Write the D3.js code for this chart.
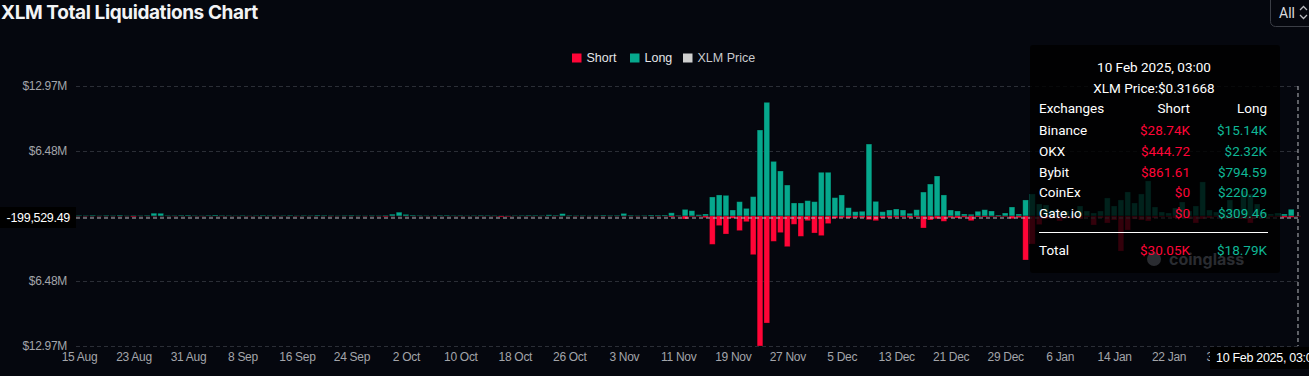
<!DOCTYPE html>
<html>
<head>
<meta charset="utf-8">
<script src="https://cdn.jsdelivr.net/npm/d3@7"></script>
<style>
  body { margin: 0; background: #05070e; }
  svg { display: block; }
  .lbl { font-family: "Liberation Sans Narrow", "Liberation Sans", sans-serif; }
  .tip { font-family: Roboto, "Noto Sans", sans-serif; }
</style>
</head>
<body>
<div id="chart"></div>
<script>
// daily liquidations, in $M, first bar = 15 Aug 2024
const startDay = "2024-08-15";

const longM = [
  0.06, 0.05, 0.08, 0.04, 0.07, 0.05, 0.09, 0.04, 0.06, 0.05,
  0.07, 0.28, 0.27, 0.06, 0.05, 0.08, 0.09, 0.05, 0.04, 0.07,
  0.10, 0.06, 0.05, 0.04, 0.06, 0.03, 0.05, 0.08, 0.06, 0.04,
  0.05, 0.07, 0.04, 0.06, 0.05, 0.09, 0.07, 0.05, 0.04, 0.06,
  0.08, 0.05, 0.04, 0.06, 0.05, 0.07, 0.18, 0.38, 0.16, 0.09,
  0.06, 0.05, 0.04, 0.07, 0.08, 0.05, 0.06, 0.04, 0.05, 0.07,
  0.06, 0.05, 0.04, 0.03, 0.05, 0.06, 0.08, 0.07, 0.05, 0.12,
  0.08, 0.24, 0.07, 0.05, 0.06, 0.04, 0.05, 0.09, 0.06, 0.07,
  0.26, 0.08, 0.05, 0.06, 0.10, 0.09, 0.10, 0.32, 0.07, 0.66,
  0.53, 0.13, 0.20, 1.90, 2.10, 2.06, 0.60, 1.43, 0.76, 1.93,
  8.58, 11.34, 5.45, 4.49, 3.09, 1.30, 1.30, 1.53, 1.43, 4.36,
  4.36, 1.83, 2.10, 0.83, 0.43, 0.47, 7.18, 1.46, 0.43, 0.60,
  0.70, 0.60, 0.27, 0.63, 2.39, 3.19, 3.99, 2.10, 0.60, 0.50,
  0.20, 0.17, 0.47, 0.63, 0.50, 0.10, 0.30, 0.90, 0.20, 1.60,
  2.20, 1.20, 1.10, 0.60, 0.40, 0.50, 0.30, 1.00, 0.50, 0.30,
  0.50, 1.80, 1.00, 1.60, 2.40, 1.30, 2.20, 3.50, 0.90, 0.40,
  0.30, 0.80, 1.40, 0.50, 1.00, 3.40, 0.60, 0.40, 0.50, 1.60,
  0.70, 2.50, 2.20, 1.20, 0.40, 0.20, 0.30, 0.20, 0.67, 0.019
];

const shortM = [
  0.01, 0.02, 0.01, 0.02, 0.01, 0.01, 0.02, 0.01, 0.08, 0.01,
  0.01, 0.02, 0.01, 0.01, 0.02, 0.01, 0.01, 0.01, 0.02, 0.01,
  0.01, 0.02, 0.01, 0.01, 0.01, 0.02, 0.01, 0.01, 0.01, 0.02,
  0.01, 0.01, 0.02, 0.01, 0.01, 0.01, 0.01, 0.02, 0.01, 0.01,
  0.01, 0.01, 0.02, 0.01, 0.02, 0.07, 0.02, 0.01, 0.02, 0.01,
  0.01, 0.01, 0.02, 0.01, 0.01, 0.01, 0.02, 0.01, 0.01, 0.02,
  0.01, 0.02, 0.09, 0.06, 0.01, 0.01, 0.02, 0.01, 0.01, 0.01,
  0.02, 0.01, 0.01, 0.02, 0.01, 0.01, 0.01, 0.02, 0.01, 0.01,
  0.02, 0.01, 0.02, 0.01, 0.01, 0.03, 0.02, 0.10, 0.03, 0.30,
  0.07, 0.05, 0.17, 2.83, 0.96, 1.80, 0.23, 1.46, 0.57, 3.86,
  12.97, 10.68, 2.53, 1.66, 3.06, 0.83, 2.03, 0.47, 1.70, 1.96,
  0.76, 0.23, 0.17, 0.20, 0.17, 0.17, 0.37, 0.47, 0.20, 0.17,
  0.13, 0.10, 0.17, 0.10, 1.20, 0.40, 0.27, 0.53, 0.17, 0.20,
  0.13, 0.47, 0.10, 0.10, 0.07, 0.07, 0.07, 0.27, 0.17, 4.39,
  2.80, 0.86, 0.30, 0.20, 0.50, 0.20, 0.15, 0.30, 0.10, 0.90,
  0.20, 0.70, 0.40, 3.50, 1.40, 0.30, 0.40, 0.50, 0.20, 0.10,
  0.10, 0.20, 0.20, 0.30, 0.70, 0.30, 0.20, 0.10, 0.15, 0.30,
  0.20, 0.30, 0.70, 0.20, 0.10, 0.10, 0.10, 0.15, 0.13, 0.030
];

const yTicks = [-12.97, -6.48, 0, 6.48, 12.97];
const legendItems = ["Short", "Long", "XLM Price"];

// tooltip content for the hovered bar (10 Feb)
const tipTitle = "10 Feb 2025, 03:00";
const tipPrice = "XLM Price:$0.31668";
const tipExchanges = ["Binance", "OKX", "Bybit", "CoinEx", "Gate.io"];
const tipShort = ["$28.74K", "$444.72", "$861.61", "$0", "$0"];
const tipLong = ["$15.14K", "$2.32K", "$794.59", "$220.29", "$309.46"];
const tipTotal = ["$30.05K", "$18.79K"];
const pointerValue = "-199,529.49";

const RED = "#ff0537", GREEN = "#06a88d", BG = "#05070e";

const W = 1309, H = 376;

const parse = d3.utcParse("%Y-%m-%d");
const day0 = parse(startDay);
const data = longM.map((v, i) => ({
  date: d3.utcDay.offset(day0, i),
  long: v,
  short: shortM[i]
}));

const svg = d3.select('#chart')
  .append('svg')
    .attr('width', W)
    .attr('height', H);

svg.append('rect').attr('width', W).attr('height', H).attr('fill', BG);

// x scaling: half a day of padding on each side
const x = d3.scaleUtc()
  .domain([d3.utcHour.offset(data[0].date, -12), d3.utcHour.offset(data[data.length - 1].date, 12)])
  .range([75.6, 1301.4]);
const dayW = x(d3.utcDay.offset(day0, 1)) - x(day0);
const barW = dayW * 0.84;

const y = d3.scaleLinear()
  .domain([-12.97, 12.97])
  .range([346, 86]);

// title
svg.append('text')
  .attr('x', 1).attr('y', 18.5)
  .attr('font-family', 'Inter, Roboto, sans-serif')
  .attr('font-weight', 700)
  .attr('font-size', 19)
  .attr('letter-spacing', -0.4)
  .attr('fill', '#f2f3f5')
  .text('XLM Total Liquidations Chart');

// "All" selector
svg.append('rect')
  .attr('x', 1270.5).attr('y', -6).attr('width', 50).attr('height', 32.5).attr('rx', 5)
  .attr('fill', 'none').attr('stroke', '#3b3e46');
svg.append('text')
  .attr('x', 1279).attr('y', 18).attr('font-family', 'Roboto, sans-serif')
  .attr('font-size', 14).attr('fill', '#d9dadd').text('All');
svg.append('path')
  .attr('d', 'M1300,10 l3.5,-3.5 l3.5,3.5 M1300,15 l3.5,3.5 l3.5,-3.5')
  .attr('fill', 'none').attr('stroke', '#b8b9bd').attr('stroke-width', 1.3);

// legend
const legendX = [572, 630, 683];
const legendColor = [RED, GREEN, '#cfcfcf'];
const legend = svg.append('g');
legendItems.forEach((name, i) => {
  legend.append('rect')
    .attr('x', legendX[i]).attr('y', 53.5).attr('width', 9.5).attr('height', 9)
    .attr('fill', legendColor[i]);
  legend.append('text')
    .attr('class', 'lbl')
    .attr('x', legendX[i] + 14.5).attr('y', 58).attr('dy', '0.35em')
    .attr('font-size', 12.5)
    .attr('fill', i === 2 ? '#c9cacd' : '#e4e5e8')
    .text(name);
});

// grid + y labels
const grid = svg.append('g');
grid.selectAll('line')
  .data(yTicks)
  .join('line')
    .attr('x1', 76).attr('x2', 1301)
    .attr('y1', d => Math.round(y(d)) + 0.5).attr('y2', d => Math.round(y(d)) + 0.5)
    .attr('stroke', '#2b2e36')
    .attr('stroke-dasharray', '4,3');
grid.selectAll('text')
  .data(yTicks.filter(d => d !== 0))
  .join('text')
    .attr('class', 'lbl')
    .attr('x', 67).attr('y', d => y(d)).attr('dy', '0.35em')
    .attr('text-anchor', 'end')
    .attr('font-size', 12)
    .attr('letter-spacing', -0.3)
    .attr('fill', '#a3a5aa')
    .text(d => '$' + Math.abs(d).toFixed(2) + 'M');

// x axis labels, every 8 days
const xTicks = d3.utcDay.range(day0, data[data.length - 1].date, 8);
const xAxis = svg.append('g')
  .attr('transform', 'translate(0,350)')
  .call(d3.axisBottom(x).tickValues(xTicks).tickFormat(d3.utcFormat('%-d %b')).tickSize(0))
  .call(g => g.select('.domain').remove());
xAxis.selectAll('text')
  .attr('class', 'lbl')
  .attr('font-size', 12)
  .attr('letter-spacing', -0.3)
  .attr('fill', '#a3a5aa')
  .attr('dy', '0.71em')
  .attr('y', 2);

// bars
const bars = svg.append('g');
bars.selectAll('rect.long')
  .data(data)
  .join('rect')
    .attr('class', 'long')
    .attr('x', d => x(d.date) - barW / 2)
    .attr('y', d => y(d.long))
    .attr('width', barW)
    .attr('height', d => y(0) - y(d.long))
    .attr('fill', GREEN)
    .attr('stroke', 'rgba(0,0,0,0.35)')
    .attr('stroke-width', 0.8);
bars.selectAll('rect.short')
  .data(data)
  .join('rect')
    .attr('class', 'short')
    .attr('x', d => x(d.date) - barW / 2)
    .attr('y', y(0))
    .attr('width', barW)
    .attr('height', d => y(-d.short) - y(0))
    .attr('fill', RED)
    .attr('stroke', 'rgba(0,0,0,0.35)')
    .attr('stroke-width', 0.8);

// axis pointer (crosshair) on the last bar
const px = x(data[data.length - 1].date);
const py = y(-0.1995);
svg.append('line')
  .attr('x1', 76).attr('x2', 1301).attr('y1', py).attr('y2', py)
  .attr('stroke', '#b9bbc0').attr('stroke-dasharray', '4,3');
svg.append('line')
  .attr('x1', px).attr('x2', px).attr('y1', 86).attr('y2', 346)
  .attr('stroke', '#b9bbc0').attr('stroke-dasharray', '4,3');
svg.append('rect')
  .attr('x', 0).attr('y', 207).attr('width', 76).attr('height', 21)
  .attr('fill', '#000');
svg.append('text')
  .attr('class', 'lbl')
  .attr('x', 70).attr('y', 217.5).attr('dy', '0.35em')
  .attr('text-anchor', 'end')
  .attr('font-size', 12.5)
  .attr('letter-spacing', -0.3)
  .attr('fill', '#fff')
  .text(pointerValue);
svg.append('rect')
  .attr('x', 1210).attr('y', 347).attr('width', 99).attr('height', 22)
  .attr('fill', '#000');
svg.append('text')
  .attr('class', 'lbl')
  .attr('x', 1216).attr('y', 358).attr('dy', '0.35em')
  .attr('font-size', 12.5)
  .attr('letter-spacing', -0.3)
  .attr('fill', '#fff')
  .text(tipTitle);

// tooltip
const tip = svg.append('g').attr('class', 'tip');
tip.append('rect')
  .attr('x', 1030).attr('y', 45).attr('width', 250).attr('height', 228).attr('rx', 3)
  .attr('fill', 'rgba(0,0,0,0.8)');
// watermark
tip.append('text')
  .attr('x', 1169).attr('y', 265)
  .attr('font-family', 'Inter, Roboto, sans-serif')
  .attr('font-weight', 700).attr('font-size', 16)
  .attr('fill', '#2a2c31')
  .text('coinglass');
tip.append('circle').attr('cx', 1154).attr('cy', 259).attr('r', 7).attr('fill', '#2a2c31');

const fs = 13.5;
tip.append('text').attr('x', 1154).attr('y', 67).attr('dy', '0.35em')
  .attr('text-anchor', 'middle').attr('font-size', fs).attr('fill', '#fff').text(tipTitle);
tip.append('text').attr('x', 1154).attr('y', 88).attr('dy', '0.35em')
  .attr('text-anchor', 'middle').attr('font-size', fs).attr('fill', '#fff').text(tipPrice);

const rowY = [130, 151, 172, 192.5, 213.5];
const header = tip.append('g').attr('font-size', fs).attr('fill', '#fff');
header.append('text').attr('x', 1039).attr('y', 108.5).attr('dy', '0.35em').text('Exchanges');
header.append('text').attr('x', 1190).attr('y', 108.5).attr('dy', '0.35em').attr('text-anchor', 'end').text('Short');
header.append('text').attr('x', 1267).attr('y', 108.5).attr('dy', '0.35em').attr('text-anchor', 'end').text('Long');

tipExchanges.forEach((name, i) => {
  tip.append('text').attr('x', 1039).attr('y', rowY[i]).attr('dy', '0.35em')
    .attr('font-size', fs).attr('fill', '#fff').text(name);
  tip.append('text').attr('x', 1190).attr('y', rowY[i]).attr('dy', '0.35em')
    .attr('text-anchor', 'end').attr('font-size', fs).attr('fill', RED).text(tipShort[i]);
  tip.append('text').attr('x', 1267).attr('y', rowY[i]).attr('dy', '0.35em')
    .attr('text-anchor', 'end').attr('font-size', fs).attr('fill', '#0fb796').text(tipLong[i]);
});
tip.append('line').attr('x1', 1039).attr('x2', 1268).attr('y1', 232.5).attr('y2', 232.5)
  .attr('stroke', '#fff').attr('stroke-width', 1);
tip.append('text').attr('x', 1039).attr('y', 250.5).attr('dy', '0.35em')
  .attr('font-size', fs).attr('fill', '#fff').text('Total');
tip.append('text').attr('x', 1190).attr('y', 250.5).attr('dy', '0.35em')
  .attr('text-anchor', 'end').attr('font-size', fs).attr('fill', RED).text(tipTotal[0]);
tip.append('text').attr('x', 1267).attr('y', 250.5).attr('dy', '0.35em')
  .attr('text-anchor', 'end').attr('font-size', fs).attr('fill', '#0fb796').text(tipTotal[1]);
</script>
</body>
</html>
